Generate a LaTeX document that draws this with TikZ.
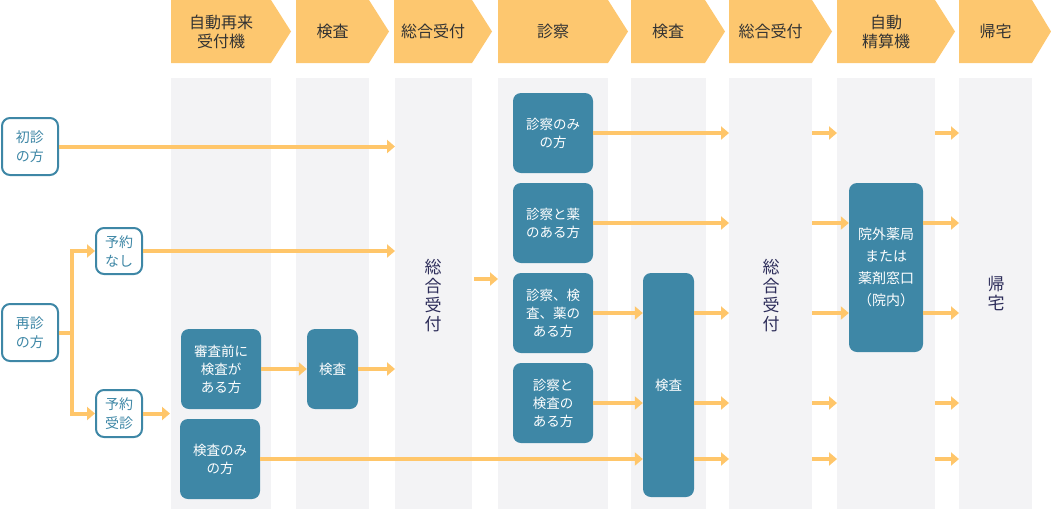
\documentclass[tikz,border=0pt]{standalone}
\usepackage{fontspec}
\newfontfamily\jp{Noto Sans CJK JP}
\usetikzlibrary{arrows.meta}
\definecolor{org}{RGB}{255,198,106}
\definecolor{hdr}{RGB}{253,199,111}
\definecolor{teal2}{RGB}{62,135,166}
\definecolor{colg}{RGB}{243,243,245}
\definecolor{htxt}{RGB}{51,51,51}
\definecolor{vtxt}{RGB}{45,45,90}
\begin{document}
\begin{tikzpicture}[x=1pt,y=-1pt,
 colbg/.style={fill=colg, inner sep=0pt, anchor=north west, minimum height=431pt},
 hdrtext/.style={font=\jp\fontsize{16}{19}\selectfont, text=htxt, align=center, inner sep=0pt},
 wbox/.style={draw=teal2, line width=2pt, fill=white, rounded corners=8pt, inner sep=0pt, text=teal2, font=\jp\fontsize{14}{19}\selectfont, align=center},
 tbox/.style={fill=teal2, rounded corners=8pt, inner sep=0pt, text=white, font=\jp\fontsize{13.5}{18}\selectfont, align=center},
 vtext/.style={font=\jp\fontsize{17}{19}\selectfont, text=vtxt, align=center, inner sep=0pt},
 ln/.style={draw=org, line width=4pt},
 arr/.style={ln, -{Triangle[length=8pt,width=13pt]}},
]
\useasboundingbox (0,0) rectangle (1051,509);
% header chevrons
\foreach \l/\r/\t/\n/\txt in {171/271/291/h1/{自動再来\\受付機}, 296/369/389/h2/{検査}, 394/472/492/h3/{総合受付}, 498/608/628/h4/{診察}, 631/705/725/h5/{検査}, 729/812/832/h6/{総合受付}, 837/935/955/h7/{自動\\精算機}, 959/1032/1051/h8/{帰宅}}{
  \fill[hdr] (\l,0) -- (\r,0) -- (\t,31.5) -- (\r,63) -- (\l,63) -- cycle;
  \node[hdrtext] (\n) at ({(\l+\r)/2},31.5) {\txt};
}
% columns
\foreach \l/\w/\n in {171/100/col1, 296/73/col2, 395/77/col3, 498/110/col4, 631/75/col5, 729/83/col6, 837/98/col7, 959/73/col8}{
  \node[colbg, minimum width=\w pt] (\n) at (\l,78) {};
}
% vertical labels
\node[vtext] (sogo1) at (433,296) {総\\合\\受\\付};
\node[vtext] (sogo2) at (771,296) {総\\合\\受\\付};
\node[vtext] (kitaku) at (996,293) {帰\\宅};
% left boxes
\node[wbox, minimum width=56pt, minimum height=57pt] (shoshin) at (30,146.5) {初診\\の方};
\node[wbox, minimum width=56pt, minimum height=57pt] (saishin) at (30,332.5) {再診\\の方};
\node[wbox, minimum width=46pt, minimum height=46pt] (nashi) at (119,251) {予約\\なし};
\node[wbox, minimum width=46pt, minimum height=47pt] (jushin) at (119,413.5) {予約\\受診};
% teal boxes
\node[tbox, minimum width=80pt, minimum height=80pt] (shinsamae) at (221,369) {審査前に\\検査が\\ある方};
\node[tbox, minimum width=51pt, minimum height=80pt] (kensa1) at (332.5,369) {検査};
\node[tbox, minimum width=80pt, minimum height=80pt] (kensanomi) at (220,459) {検査のみ\\の方};
\node[tbox, minimum width=80pt, minimum height=80pt] (snomi) at (553,133) {診察のみ\\の方};
\node[tbox, minimum width=80pt, minimum height=80pt] (skusuri) at (553,223) {診察と薬\\のある方};
\node[tbox, minimum width=80pt, minimum height=80pt] (s3) at (553,313) {診察、検\\査、薬の\\ある方};
\node[tbox, minimum width=80pt, minimum height=80pt] (skensa) at (553,403) {診察と\\検査の\\ある方};
\node[tbox, minimum width=51pt, minimum height=224pt] (kensa2) at (668.5,385) {検査};
\node[tbox, minimum width=74pt, minimum height=169pt, font=\jp\fontsize{14}{22}\selectfont] (yakkyoku) at (886,267.5) {院外薬局\\または\\薬剤窓口\\（院内）};
% connectors
\draw[arr] (shoshin.east) -- (shoshin.east -| col3.west);
\coordinate (br) at ([xshift=13pt]saishin.east);
\draw[ln] (saishin.east) -- (br);
\draw[arr] (br) |- (nashi.west);
\draw[arr] (br) |- (jushin.west);
\draw[arr] (nashi.east) -- (nashi.east -| col3.west);
\draw[arr] (jushin.east) -- ([xshift=-1pt]jushin.east -| col1.west);
\draw[arr] (shinsamae.east) -- (kensa1.west);
\draw[arr] (kensa1.east) -- (kensa1.east -| col3.west);
\coordinate (c34) at (474,279);
\draw[arr] (c34) -- (c34 -| col4.west);
\draw[arr] (snomi.east) -- (snomi.east -| col6.west);
\draw[arr] (skusuri.east) -- (skusuri.east -| col6.west);
\draw[arr] (s3.east) -- (s3.east -| kensa2.west);
\draw[arr] (skensa.east) -- (skensa.east -| kensa2.west);
\draw[arr] (kensanomi.east) -- (kensanomi.east -| kensa2.west);
\foreach \s in {s3, skensa, kensanomi}{
  \draw[arr] (kensa2.east |- \s.east) -- (col6.west |- \s.east);
}
\foreach \s in {snomi, skensa, kensanomi}{
  \draw[arr] (col6.east |- \s.east) -- (col7.west |- \s.east);
  \draw[arr] (col7.east |- \s.east) -- (col8.west |- \s.east);
}
\foreach \s in {skusuri, s3}{
  \draw[arr] (col6.east |- \s.east) -- (yakkyoku.west |- \s.east);
  \draw[arr] (yakkyoku.east |- \s.east) -- (col8.west |- \s.east);
}
\end{tikzpicture}
\end{document}
